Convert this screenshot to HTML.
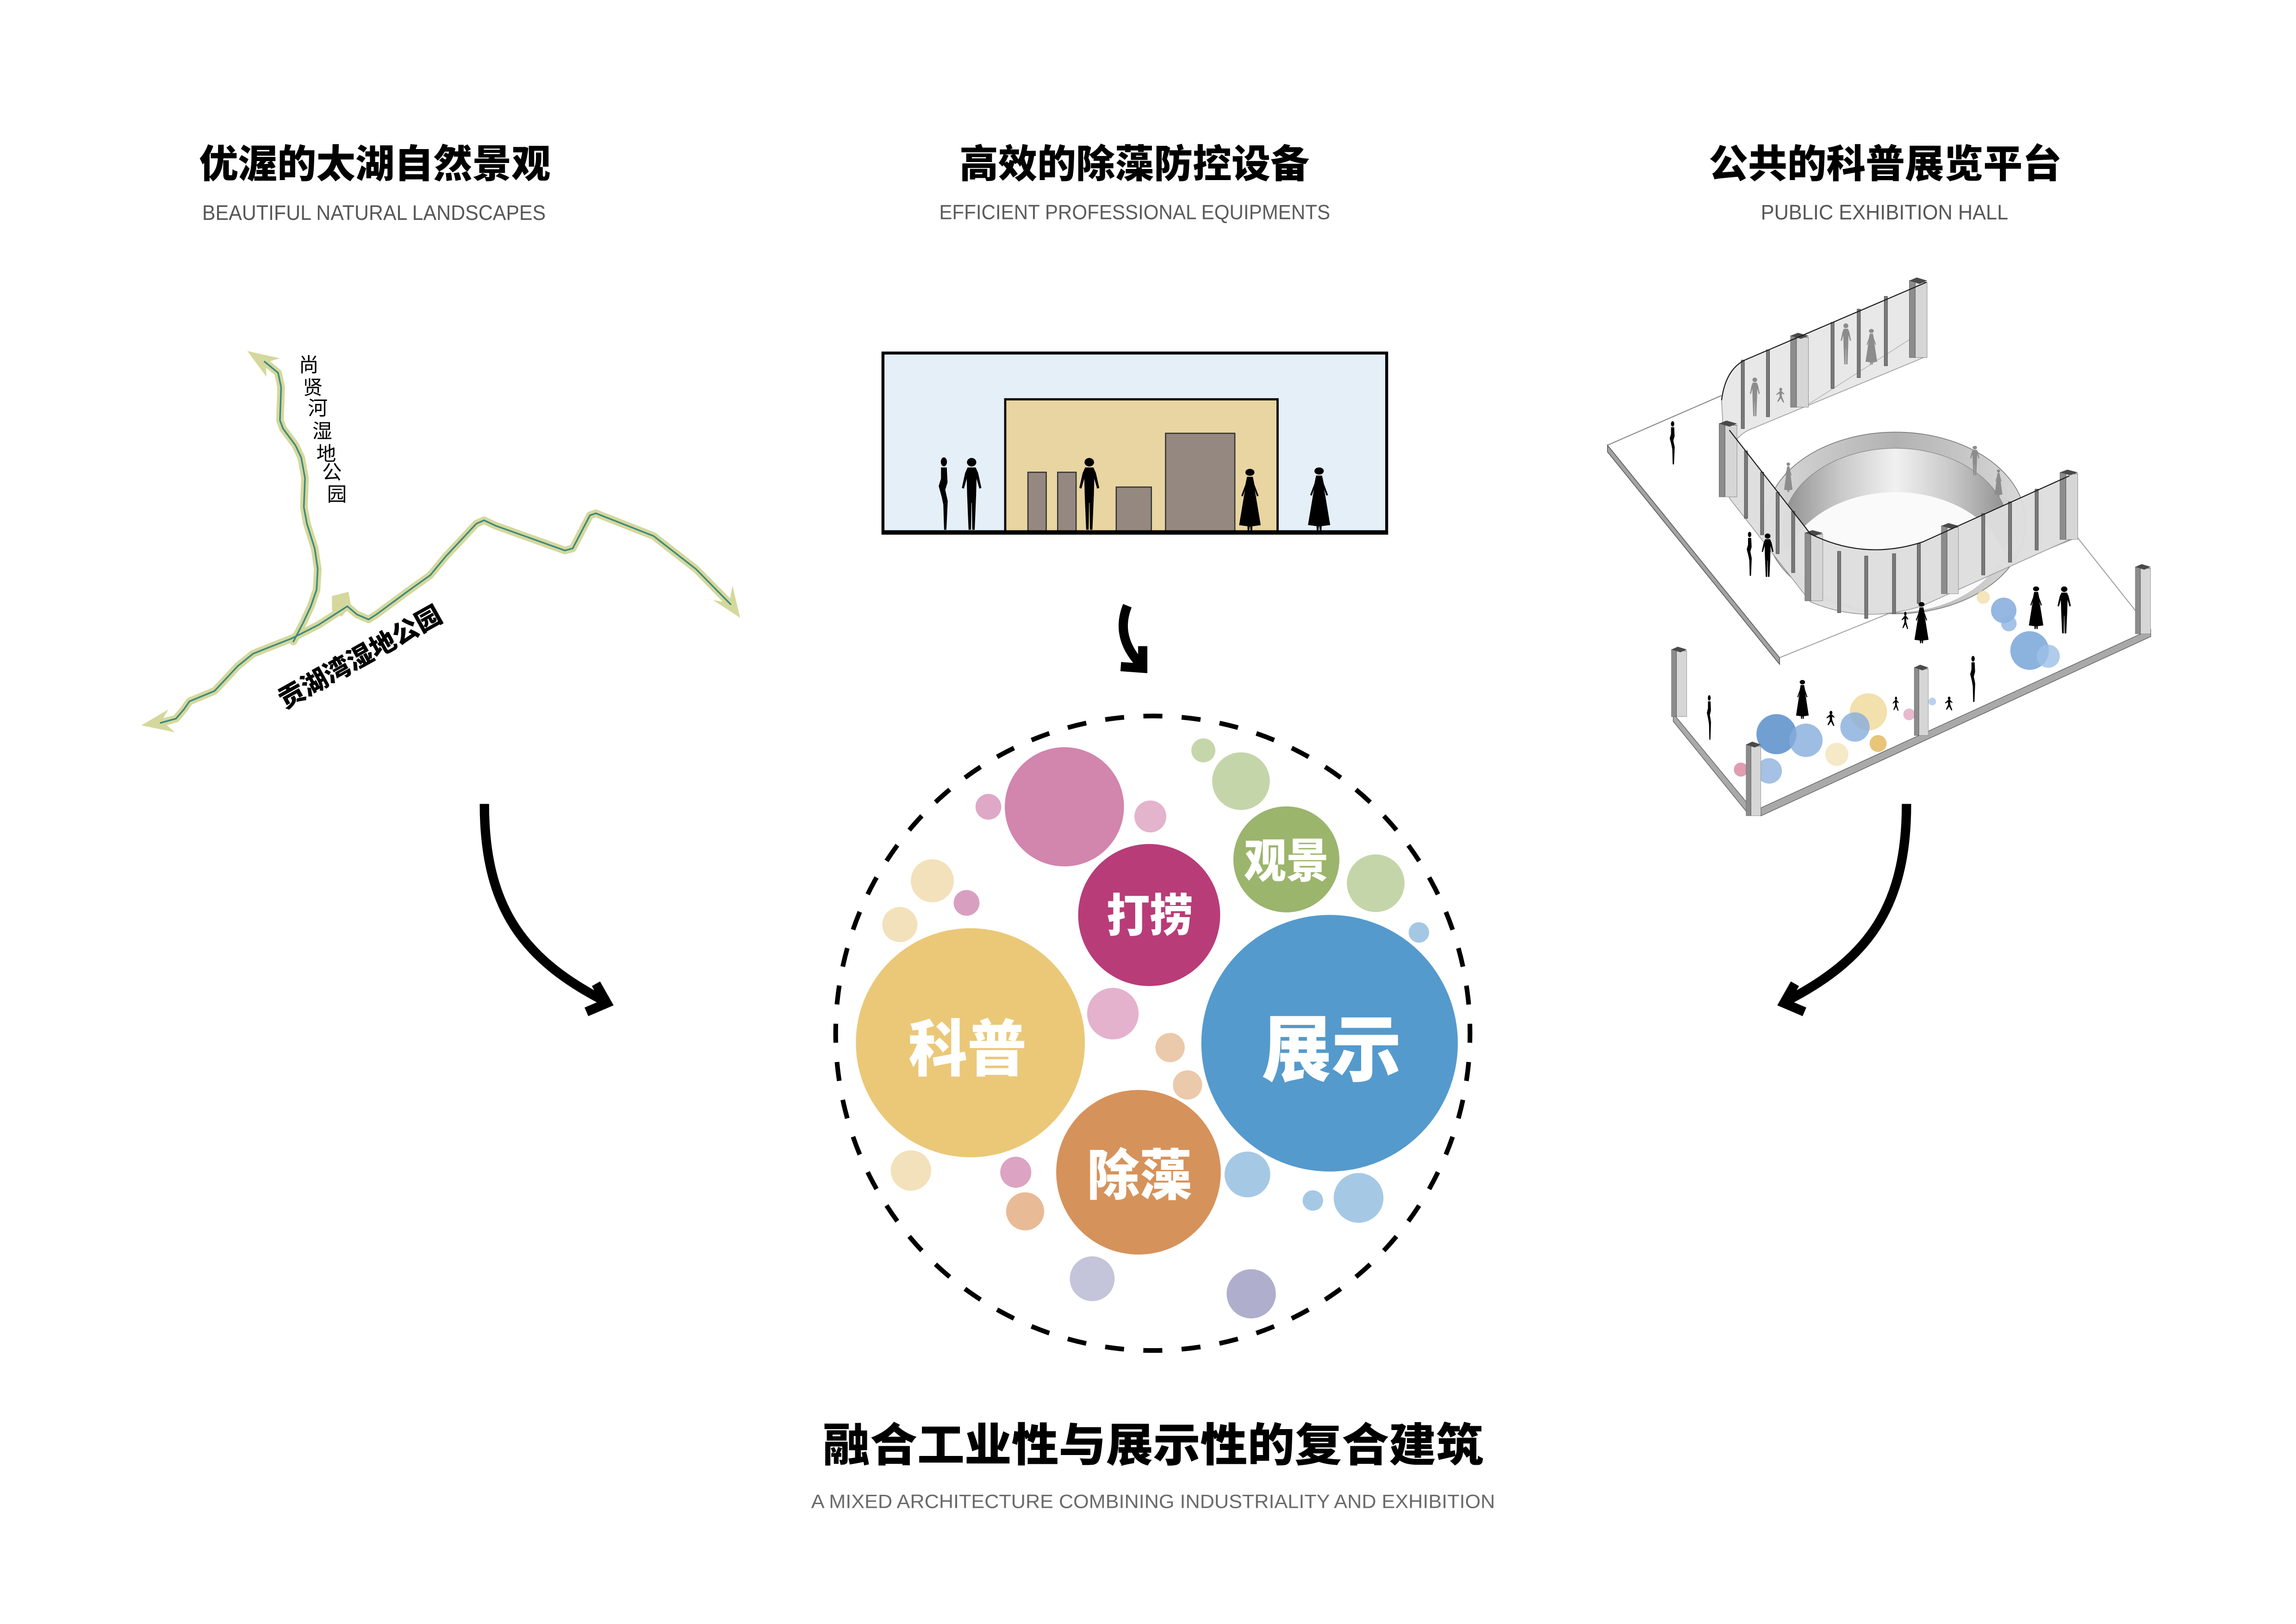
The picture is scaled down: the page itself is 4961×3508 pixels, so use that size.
<!DOCTYPE html>
<html>
<head>
<meta charset="utf-8">
<style>
html,body{margin:0;padding:0;background:#fff;overflow:hidden;}
svg{display:block;}
.t{font-family:"Liberation Sans","Noto Sans CJK SC",sans-serif;font-weight:900;fill:#000;}
.w{font-family:"Liberation Sans","Noto Sans CJK SC",sans-serif;font-weight:900;fill:#fff;}
.s{font-family:"Liberation Sans","Noto Sans CJK SC",sans-serif;font-weight:400;}
.lbl{font-family:"Liberation Sans","Noto Sans CJK SC",sans-serif;font-weight:400;fill:#000;}
</style>
</head>
<body>
<svg width="4961" height="3508" viewBox="0 0 1568 1108.7" xmlns="http://www.w3.org/2000/svg">
<defs>
  <symbol id="man" viewBox="0 0 12 40" preserveAspectRatio="none">
    <circle cx="6" cy="3.2" r="2.3"/>
    <path d="M4,6 L8,6 L9.2,9 L10.8,17 L9.8,17.4 L8.4,12 L8.2,21 L7.5,39.5 L6.3,39.5 L6.1,25 L5.9,25 L5.7,39.5 L4.5,39.5 L3.8,21 L3.6,12 L2.2,17.4 L1.2,17 L2.8,9 Z"/>
  </symbol>
  <symbol id="woman" viewBox="0 0 12 40" preserveAspectRatio="none">
    <circle cx="6" cy="3.2" r="2.2"/>
    <path d="M4.6,6 L7.4,6 L8.2,11 L10.2,18 L9.4,18.4 L8.4,14.5 L11.2,36.5 L7.2,37.2 L7.1,39.8 L6.3,39.8 L6.1,37.3 L5.9,37.3 L5.7,39.8 L4.9,39.8 L4.8,37.2 L0.8,36.5 L3.6,14.5 L2.6,18.4 L1.8,18 L3.8,11 Z"/>
  </symbol>
  <symbol id="slim" viewBox="0 0 8 40" preserveAspectRatio="none">
    <ellipse cx="4.5" cy="3" rx="1.6" ry="2.4"/>
    <path d="M3,6 L6,6 L6.4,14 L5.2,18 L6.5,24 L5.8,39.5 L4.6,39.5 L4.2,26 L3.4,22 L1.8,16 L3,12 Z"/>
  </symbol>
  <symbol id="kid" viewBox="0 0 10 12" preserveAspectRatio="none">
    <circle cx="5.5" cy="1.6" r="1.4"/>
    <path d="M4.5,3 L6.5,3 L9,5 L8.6,5.6 L6.6,4.6 L6.6,7 L8.8,11.6 L7.8,12 L5.6,8.6 L3,11.4 L2.2,10.8 L4.4,7.4 L4.3,4.8 L1.5,6 L1.2,5.4 Z"/>
  </symbol>
  <symbol id="post" viewBox="0 0 12 50" preserveAspectRatio="none">
    <rect x="0" y="2" width="4" height="48" fill="#8c8c8c" stroke="#555" stroke-width="0.4"/>
    <rect x="4" y="3" width="8" height="47" fill="#d6d6d6" stroke="#666" stroke-width="0.4"/>
    <polygon points="0,2 5,0 12,2 7,4" fill="#4a4a4a"/>
  </symbol>
  <linearGradient id="inw" x1="0" x2="1" y1="0" y2="0">
    <stop offset="0" stop-color="#8e8e8e"/>
    <stop offset="0.25" stop-color="#c8c8c8"/>
    <stop offset="0.5" stop-color="#f1f1f1"/>
    <stop offset="0.75" stop-color="#c8c8c8"/>
    <stop offset="1" stop-color="#8e8e8e"/>
  </linearGradient>
  <linearGradient id="rtop" x1="0" x2="1" y1="0" y2="0">
    <stop offset="0" stop-color="#d9d9d9"/>
    <stop offset="0.5" stop-color="#b2b2b2"/>
    <stop offset="1" stop-color="#d9d9d9"/>
  </linearGradient>
  <clipPath id="inClip"><ellipse cx="1294.5" cy="361" rx="77" ry="57"/></clipPath>
</defs>

<rect x="0" y="0" width="1568" height="1108.7" fill="#fff"/>

<!-- ===== Titles ===== -->
<text class="t" x="256" y="121.2" font-size="26.5" text-anchor="middle" textLength="240" lengthAdjust="spacingAndGlyphs">优渥的太湖自然景观</text>
<text class="s" x="255.4" y="150.1" font-size="14.5" fill="#575757" text-anchor="middle" textLength="234.6" lengthAdjust="spacingAndGlyphs">BEAUTIFUL NATURAL LANDSCAPES</text>

<text class="t" x="774.7" y="121.2" font-size="26.5" text-anchor="middle" textLength="239" lengthAdjust="spacingAndGlyphs">高效的除藻防控设备</text>
<text class="s" x="774.9" y="149.7" font-size="14" fill="#5c5c5c" text-anchor="middle" textLength="267" lengthAdjust="spacingAndGlyphs">EFFICIENT PROFESSIONAL EQUIPMENTS</text>

<text class="t" x="1287.5" y="121.2" font-size="26.5" text-anchor="middle" textLength="241" lengthAdjust="spacingAndGlyphs">公共的科普展览平台</text>
<text class="s" x="1287" y="149.8" font-size="14.3" fill="#575757" text-anchor="middle" textLength="169" lengthAdjust="spacingAndGlyphs">PUBLIC EXHIBITION HALL</text>

<text class="t" x="787.5" y="997.5" font-size="31" text-anchor="middle" textLength="451" lengthAdjust="spacingAndGlyphs">融合工业性与展示性的复合建筑</text>
<text class="s" x="787.5" y="1029.5" font-size="13.3" fill="#6a6a6a" text-anchor="middle" textLength="467" lengthAdjust="spacingAndGlyphs">A MIXED ARCHITECTURE COMBINING INDUSTRIALITY AND EXHIBITION</text>

<!-- ===== Component 1: river map ===== -->
<g fill="none" stroke-linejoin="round" stroke-linecap="round">
  <polyline stroke="#d5d89c" stroke-width="5.2" points="109.7,493.5 120.2,490.6 125.5,484.4 129.4,478.8 146.5,471.7 153.1,464.7 162.3,454.8 172.8,446.3 183.3,442.1 199.1,435.9 217.5,426.6 237.2,413.9 243.8,419.5 251.7,422.9 257,419.5 278,404 293.8,392.7 304.3,380 325.3,357.5 330.6,355.2 338.5,358.9 385.8,375.8 391.1,374.4 402.9,351.8 406.9,350.4 446.3,365.9 475.3,388.5 498.9,412.5"/>
  <polyline stroke="#d5d89c" stroke-width="5.2" points="180.7,246.9 189.9,254.5 192,264.4 191.2,287 193.3,292.6 201.7,303.9 205.7,312.3 208.3,326.4 207.5,346.2 209.6,357.5 214.9,374.4 217,388.5 216.2,402.6 212.3,413.9 207,425.2 200.4,437.9"/>
</g>
<polygon fill="#d5d89c" points="226.7,406.9 238,404 239.6,413.3 233.3,421 226.7,416.7"/>
<polygon fill="#d5d89c" points="96.5,495.2 114.9,484.4 110.5,492 119.4,499.9"/>
<polygon fill="#d5d89c" points="168.9,239.6 191.2,244.6 181.5,247.5 182,257.3"/>
<polygon fill="#d5d89c" points="505.5,421.8 500.2,399.8 498,411.5 487.1,409.7"/>
<g fill="none" stroke="#3d8a7e" stroke-width="1.1" stroke-linejoin="round" stroke-linecap="round">
  <polyline points="109.7,493.5 120.2,490.6 125.5,484.4 129.4,478.8 146.5,471.7 153.1,464.7 162.3,454.8 172.8,446.3 183.3,442.1 199.1,435.9 217.5,426.6 237.2,413.9 243.8,419.5 251.7,422.9 257,419.5 278,404 293.8,392.7 304.3,380 325.3,357.5 330.6,355.2 338.5,358.9 385.8,375.8 391.1,374.4 402.9,351.8 406.9,350.4 446.3,365.9 475.3,388.5 498.9,412.5"/>
  <polyline points="180.7,246.9 189.9,254.5 192,264.4 191.2,287 193.3,292.6 201.7,303.9 205.7,312.3 208.3,326.4 207.5,346.2 209.6,357.5 214.9,374.4 217,388.5 216.2,402.6 212.3,413.9 207,425.2 200.4,437.9"/>
</g>
<g class="lbl" font-size="13.5" text-anchor="middle">
  <text x="210.9" y="253.8">尚</text>
  <text x="213.6" y="269.3">贤</text>
  <text x="217" y="283.4">河</text>
  <text x="220.1" y="298.9">湿</text>
  <text x="222.8" y="314.4">地</text>
  <text x="226.7" y="327.1">公</text>
  <text x="230.1" y="342.1">园</text>
</g>
<text class="t" transform="translate(245.8,448.5) rotate(-29.2)" x="0" y="6.2" font-size="17.5" text-anchor="middle" textLength="124.6" lengthAdjust="spacingAndGlyphs">贡湖湾湿地公园</text>

<!-- ===== Component 2: section ===== -->
<rect x="603" y="241" width="344" height="123" fill="#e4eff8" stroke="#000" stroke-width="2"/>
<rect x="686.5" y="272.6" width="186" height="90.4" fill="#e9d5a1" stroke="#000" stroke-width="1.5"/>
<g fill="#948881" stroke="#333" stroke-width="0.8">
  <rect x="702" y="322.4" width="12.5" height="40"/>
  <rect x="722.3" y="322.4" width="12.6" height="40"/>
  <rect x="762.3" y="332.5" width="24" height="29.9"/>
  <rect x="796" y="295.8" width="47.3" height="66.6"/>
</g>
<line x1="603" y1="363" x2="947" y2="363" stroke="#000" stroke-width="2"/>
<g fill="#000">
  <use href="#slim" x="638.7" y="311.5" width="10.5" height="50.8"/>
  <use href="#man" x="655.2" y="311.5" width="16.7" height="50.8"/>
  <use href="#man" x="735.4" y="311.5" width="17" height="50.8"/>
  <use href="#woman" x="845.1" y="319" width="17" height="43.3"/>
  <use href="#woman" x="892.1" y="318" width="17.5" height="44.3"/>
</g>

<!-- ===== Component 3: isometric hall ===== -->
<line x1="1097.8" y1="303.9" x2="1175.7" y2="270" stroke="#8a8a8a" stroke-width="0.7"/>
<polygon points="1097.8,303.9 1215.3,449 1215.3,453.5 1097.8,308.5" fill="#a3a3a3" stroke="#555" stroke-width="0.5"/>
<line x1="1215.3" y1="449" x2="1418.6" y2="366.8" stroke="#9a9a9a" stroke-width="0.6"/>
<line x1="1418.6" y1="366.8" x2="1458.2" y2="416.7" stroke="#9a9a9a" stroke-width="0.6"/>

<!-- ring -->
<ellipse cx="1294.5" cy="357" rx="89" ry="62" fill="url(#rtop)" stroke="#777" stroke-width="0.5"/>
<ellipse cx="1294.5" cy="361" rx="77" ry="55" fill="url(#inw)" stroke="#888" stroke-width="0.4"/>
<ellipse cx="1294.5" cy="393" rx="77" ry="57" fill="#fafafa" clip-path="url(#inClip)"/>
<g fill="#8c8c8c">
  <use href="#woman" x="1218" y="315.2" width="6.6" height="20.9"/>
  <use href="#man" x="1344.7" y="303.9" width="7.9" height="20.9"/>
  <use href="#woman" x="1361.8" y="320" width="6.1" height="19.3"/>
</g>

<!-- back wall -->
<path d="M1175.7,273.2 Q1178.4,252.3 1191.6,245.8 L1315.6,192.7 L1315.6,243.3 L1194.2,293.6 Q1179.7,300.7 1178.4,323.2 Z" fill="#e8e8e8" stroke="#9a9a9a" stroke-width="0.5"/>
<line x1="1235" y1="276" x2="1310" y2="228" stroke="#b5b5b5" stroke-width="0.5"/>
<g fill="#8c8c8c">
  <use href="#man" x="1256.2" y="220.1" width="8.8" height="29"/>
  <use href="#woman" x="1273.4" y="223.9" width="9.2" height="25.2"/>
  <use href="#man" x="1194.2" y="257.1" width="8.4" height="27.4"/>
  <use href="#kid" x="1212.2" y="264.5" width="7.1" height="10.4"/>
</g>
<g fill="#7a7a7a" stroke="#444" stroke-width="0.3">
  <rect x="1189.1" y="245.8" width="2.2" height="46.8"/>
  <rect x="1206.3" y="238.8" width="2.2" height="45.7"/>
  <rect x="1250.4" y="220.1" width="2.2" height="45.1"/>
  <rect x="1268.3" y="211" width="2.2" height="46.8"/>
  <rect x="1286.8" y="202.3" width="2.2" height="47.4"/>
</g>
<use href="#post" x="1222.7" y="227.2" width="12.4" height="50.9"/>
<use href="#post" x="1303.8" y="189.4" width="12.4" height="54.8"/>

<!-- front wall -->
<path d="M1181,293.6 L1236.4,364.5 Q1273.4,382.9 1313,370 L1413.3,324.8 L1413.3,368.4 L1313,413.5 Q1273.4,426.4 1236.4,410.9 L1181,340 Z" fill="#dedede" fill-opacity="0.96" stroke="#999" stroke-width="0.5"/>
<g fill="#7a7a7a" stroke="#444" stroke-width="0.3">
  <rect x="1191.3" y="307.8" width="2.2" height="46.1"/>
  <rect x="1202.3" y="322.3" width="2.2" height="42.8"/>
  <rect x="1212.9" y="336.1" width="2.2" height="41.9"/>
  <rect x="1223.5" y="349" width="2.2" height="41.9"/>
  <rect x="1254.9" y="376.4" width="2.2" height="41.9"/>
  <rect x="1273.4" y="379.6" width="2.2" height="42.6"/>
  <rect x="1292.4" y="378" width="2.2" height="41"/>
  <rect x="1309.3" y="371" width="2.2" height="40.9"/>
  <rect x="1353.3" y="350.6" width="2.2" height="41.9"/>
  <rect x="1371.6" y="342.6" width="2.2" height="41.2"/>
  <rect x="1389.8" y="333.9" width="2.2" height="41.6"/>
</g>
<use href="#post" x="1173.9" y="287.1" width="12.4" height="52.2"/>
<use href="#post" x="1232.5" y="361.9" width="12.4" height="48.4"/>
<use href="#post" x="1325.7" y="357.1" width="11.9" height="48.3"/>
<use href="#post" x="1406.7" y="320.6" width="12.4" height="47.8"/>
<g fill="none" stroke="#1a1a1a" stroke-width="0.7">
  <path d="M1175.7,273.2 Q1178.4,252.3 1191.6,245.8 L1315.6,192.7"/>
  <path d="M1181,293.6 L1236.4,364.5 Q1273.4,382.9 1313,370 L1413.3,324.8"/>
</g>

<!-- lower floor colored circles -->
<g fill-opacity="0.8">
  <circle cx="1354.4" cy="407.7" r="4.5" fill="#f2dfae"/>
  <circle cx="1368.4" cy="416.7" r="8.7" fill="#7aa5da"/>
  <circle cx="1371.9" cy="425.7" r="5.3" fill="#8fb4e0"/>
  <circle cx="1386.1" cy="444.1" r="13.2" fill="#6f9fd6"/>
  <circle cx="1398.8" cy="448" r="7.9" fill="#9dbfe6"/>
  <circle cx="1276" cy="486" r="12.7" fill="#efd899"/>
  <circle cx="1266.8" cy="496.3" r="10" fill="#86acdc"/>
  <circle cx="1282.6" cy="507.6" r="5.8" fill="#e2b657"/>
  <circle cx="1254.4" cy="515" r="7.9" fill="#f4e3b9"/>
  <circle cx="1213.2" cy="501.2" r="13.7" fill="#4d87c7"/>
  <circle cx="1233.3" cy="505.4" r="11.4" fill="#86acdc"/>
  <circle cx="1208.2" cy="526.3" r="8.7" fill="#8fb1dc"/>
  <circle cx="1188.9" cy="525.4" r="4.8" fill="#d8849f"/>
  <circle cx="1303.8" cy="487.7" r="4" fill="#e3a7c0"/>
  <circle cx="1319.6" cy="478.9" r="2.6" fill="#a9c6ea"/>
</g>

<!-- lower walls -->
<polygon points="1142.7,487.1 1194.2,549.5 1194.2,556 1142.7,492.5" fill="#a9a9a9" stroke="#555" stroke-width="0.4"/>
<polygon points="1202.6,551.5 1468.8,429.6 1468.8,434.6 1202.6,557" fill="#a9a9a9" stroke="#555" stroke-width="0.4"/>
<use href="#post" x="1141.4" y="441.5" width="10.6" height="47.8"/>
<use href="#post" x="1192.4" y="506.3" width="10.2" height="50.7"/>
<use href="#post" x="1307.2" y="453.8" width="9.8" height="48.4"/>
<use href="#post" x="1458.2" y="385.1" width="10.6" height="47.7"/>

<!-- black people -->
<g fill="#000">
  <use href="#slim" x="1139" y="287.1" width="5.8" height="30.3"/>
  <use href="#slim" x="1191.6" y="362.6" width="5.8" height="30.9"/>
  <use href="#man" x="1202.1" y="363.5" width="10.1" height="30.7"/>
  <use href="#woman" x="1306.7" y="410.3" width="11.1" height="29"/>
  <use href="#kid" x="1298" y="417.4" width="5.8" height="12.2"/>
  <use href="#woman" x="1384.8" y="399.6" width="11.4" height="30"/>
  <use href="#man" x="1404" y="399.6" width="11.4" height="33.2"/>
  <use href="#slim" x="1344.2" y="447.3" width="5.8" height="32.3"/>
  <use href="#woman" x="1225.9" y="463.5" width="10" height="27.4"/>
  <use href="#kid" x="1246.5" y="485.1" width="7.1" height="10.6"/>
  <use href="#kid" x="1291.9" y="475.4" width="5.3" height="10"/>
  <use href="#kid" x="1327.5" y="475.4" width="6.6" height="9.7"/>
  <use href="#slim" x="1164.6" y="474.1" width="4.8" height="31.3"/>
</g>

<!-- ===== Arrows ===== -->
<g fill="none" stroke="#000" stroke-width="6.4" stroke-linejoin="miter" stroke-miterlimit="10">
  <path d="M330.8,548.8 C330.8,620 358,655 412,683"/>
  <polyline points="407,671.6 414.5,684.8 400.5,690.8"/>
  <g transform="translate(1632.8,0) scale(-1,1)">
    <path d="M330.8,548.8 C330.8,620 358,655 412,683"/>
    <polyline points="407,671.6 414.5,684.8 400.5,690.8"/>
  </g>
  <path d="M769.9,413.5 C765.5,424.5 765,438 778,452.5" stroke-width="6.3"/>
  <polyline points="780.4,441.1 780.4,456.2 765.4,455.1" stroke-width="6.3"/>
</g>

<!-- ===== Center bubble diagram ===== -->
<circle cx="787.3" cy="705.4" r="216.6" fill="none" stroke="#000" stroke-width="3.2" stroke-dasharray="13 13.17" stroke-dashoffset="6.5"/>

<g>
  <circle cx="821.8" cy="512.3" r="8.2" fill="#c6d6ab"/>
  <circle cx="847.5" cy="533.3" r="19.7" fill="#c5d5aa"/>
  <circle cx="939.5" cy="603" r="19.7" fill="#c5d5aa"/>
  <circle cx="969" cy="636.6" r="7" fill="#a4c8e4"/>
  <circle cx="675" cy="550.8" r="8.8" fill="#dfa8c6"/>
  <circle cx="785.6" cy="557.4" r="10.9" fill="#e4b3cc"/>
  <circle cx="636.7" cy="601.3" r="14.7" fill="#f3e1bb"/>
  <circle cx="660.1" cy="616.4" r="8.8" fill="#d99fc0"/>
  <circle cx="614.5" cy="631.2" r="12" fill="#f3e1bb"/>
  <circle cx="760" cy="692" r="17.6" fill="#e4b2cd"/>
  <circle cx="799.1" cy="715.2" r="10" fill="#ebc9ab"/>
  <circle cx="811" cy="740.7" r="10" fill="#ebc9ab"/>
  <circle cx="622.1" cy="799.1" r="13.8" fill="#f3e1bb"/>
  <circle cx="693.7" cy="800.3" r="10.6" fill="#dca3c2"/>
  <circle cx="700.1" cy="827" r="13" fill="#e8bb96"/>
  <circle cx="851.9" cy="801.8" r="15.6" fill="#a5c9e5"/>
  <circle cx="896.6" cy="819.6" r="7" fill="#a5c9e5"/>
  <circle cx="927.8" cy="817.8" r="17" fill="#a5c9e5"/>
  <circle cx="745.9" cy="873" r="15.3" fill="#c4c4da"/>
  <circle cx="854.5" cy="883.3" r="16.8" fill="#afaecc"/>

  <circle cx="726.9" cy="550.8" r="40.7" fill="#d285ad"/>
  <circle cx="784.8" cy="624.7" r="48.5" fill="#b83c78"/>
  <circle cx="878.5" cy="586.7" r="36.2" fill="#9bb56d"/>
  <circle cx="662.7" cy="711.9" r="78.2" fill="#eac878"/>
  <circle cx="908" cy="712.2" r="87.6" fill="#559acd"/>
  <circle cx="777.5" cy="800.3" r="56.2" fill="#d6925b"/>
</g>
<text class="w" x="660.7" y="731" font-size="42" text-anchor="middle" textLength="80.6" lengthAdjust="spacingAndGlyphs">科普</text>
<text class="w" x="909.3" y="734" font-size="49.5" text-anchor="middle" textLength="95.4" lengthAdjust="spacingAndGlyphs">展示</text>
<text class="w" x="785.2" y="636" font-size="31" text-anchor="middle" textLength="59.2" lengthAdjust="spacingAndGlyphs">打捞</text>
<text class="w" x="878.5" y="599" font-size="32" text-anchor="middle" textLength="57.8" lengthAdjust="spacingAndGlyphs">观景</text>
<text class="w" x="778.2" y="815.7" font-size="37.5" text-anchor="middle" textLength="71.6" lengthAdjust="spacingAndGlyphs">除藻</text>
</svg>
</body>
</html>
